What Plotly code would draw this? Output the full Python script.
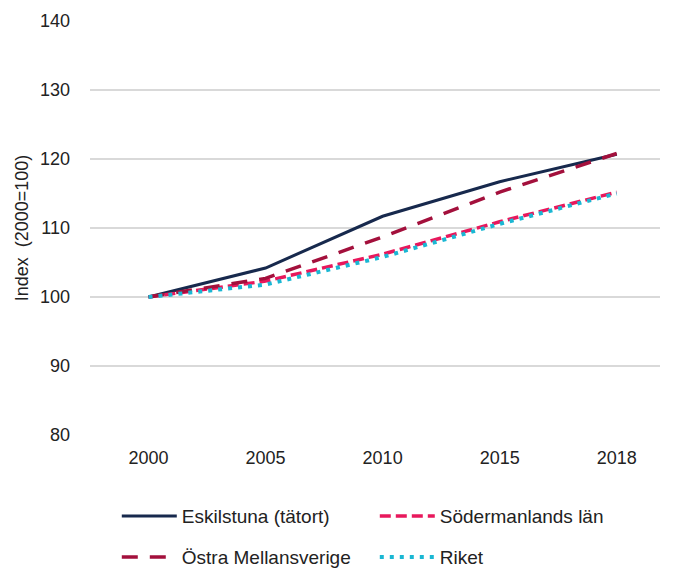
import plotly.graph_objects as go

years = ["2000", "2005", "2010", "2015", "2018"]
eskilstuna = [100, 104.2, 111.7, 116.7, 120.7]
sodermanland = [100, 102.3, 106.2, 110.9, 115.2]
ostra = [100, 102.7, 108.7, 115.2, 120.8]
riket = [100, 101.8, 105.8, 110.6, 115.0]

font = "Liberation Sans, Arial, sans-serif"

fig = go.Figure()
fig.add_trace(go.Scatter(x=years, y=eskilstuna, mode="lines", name="Eskilstuna (tätort)",
                         line=dict(color="#17294d", width=3), legend="legend"))
fig.add_trace(go.Scatter(x=years, y=sodermanland, mode="lines", name="Södermanlands län",
                         line=dict(color="#e8185c", width=3.5, dash="11px,5px"), legend="legend"))
fig.add_trace(go.Scatter(x=years, y=ostra, mode="lines", name="Östra Mellansverige",
                         line=dict(color="#a3103c", width=3.5, dash="16px,12px"), legend="legend2"))
fig.add_trace(go.Scatter(x=years, y=riket, mode="lines", name="Riket",
                         line=dict(color="#1ab7d3", width=4, dash="4px,6px"), legend="legend2"))

legend_common = dict(orientation="h", xanchor="left", yanchor="middle", entrywidth=188,
                     entrywidthmode="pixels", itemwidth=55, bgcolor="rgba(0,0,0,0)",
                     font=dict(family=font, size=19, color="#222"))

fig.update_layout(
    width=676, height=568,
    margin=dict(l=82, r=24, t=13, b=141, autoexpand=False),
    paper_bgcolor="white", plot_bgcolor="white",
    font=dict(family=font, size=18, color="#333"),
    showlegend=True,
    legend=dict(x=0.047, y=-0.196, **legend_common),
    legend2=dict(x=0.047, y=-0.295, **legend_common),
)
fig.update_xaxes(type="category", range=[-0.5, 4.37], showgrid=False, showline=False,
                 ticks="", ticklabelstandoff=10, tickfont=dict(size=18, color="#222"))
fig.update_yaxes(range=[80, 140], dtick=10, showgrid=True, gridcolor="#d9d9d9", gridwidth=1.5,
                 zeroline=False, showline=False, ticks="", ticklabelstandoff=19,
                 tickfont=dict(size=18, color="#222"),
                 title=dict(text="Index  (2000=100)", font=dict(size=18, color="#222"), standoff=6))

fig.write_html("out.html")
